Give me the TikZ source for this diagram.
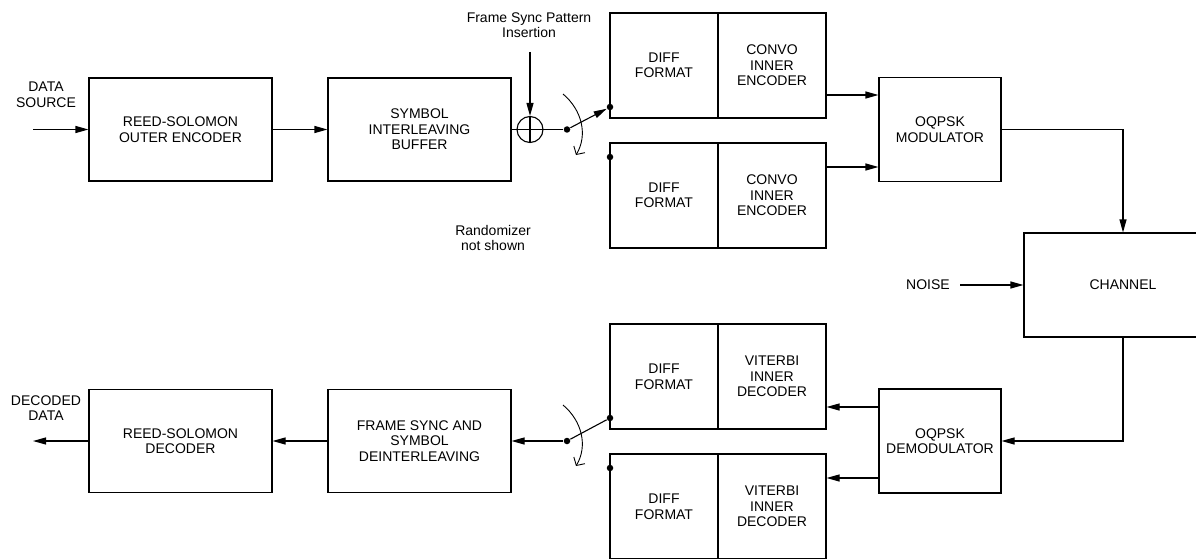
\documentclass[tikz,border=0pt]{standalone}
\usepackage{fontspec}
\setmainfont{Liberation Sans}
\usetikzlibrary{arrows.meta}
\newcommand\dfont{\fontsize{14}{15.5}\selectfont}
\begin{document}
\begin{tikzpicture}[x=1pt,y=-1pt,line width=1.1pt,
  box/.style={draw, minimum width=183pt, minimum height=103pt, align=center, inner sep=0pt, font=\dfont},
  half/.style={draw, minimum width=108pt, minimum height=105pt, align=center, inner sep=0pt, font=\dfont},
  mbox/.style={draw, minimum width=122pt, minimum height=104pt, align=center, inner sep=0pt, font=\dfont},
  lbl/.style={align=center, inner sep=0pt, font=\dfont},
  dot/.style={circle, fill, inner sep=0pt, minimum size=6.5pt},
  arr/.style={-{Triangle[length=13pt,width=7pt]}},
  barb/.style={-{Straight Barb[length=6pt,width=13pt]}}]
\useasboundingbox (0,0) rectangle (1196,559);
\clip (0,0) rectangle (1196,559);
% top row
\node[box] (rsenc) at (180.5,129.5) {REED-SOLOMON\\OUTER ENCODER};
\node[box] (sib) at (419.5,129.5) {SYMBOL\\INTERLEAVING\\BUFFER};
\node[circle, draw, minimum size=26pt, inner sep=0pt] (add) at (530,129.5) {};
\draw (add.north) -- (add.south);
\draw (add.west) -- (add.east);
\node[lbl] (dsrc) at (46,95) {DATA\\SOURCE};
\coordinate (dsin) at (33,129.5);
\draw[arr] (dsin) -- (rsenc.west);
\draw[arr] (rsenc.east) -- (sib.west);
\draw (sib.east) -- (add.west);
\node[lbl] (fsp) at (529,25) {Frame Sync Pattern\\Insertion};
\coordinate (fspin) at (530,52);
\draw[arr] (fspin) -- (add.north);
\node[dot] (sw1) at (567,129.5) {};
\draw (add.east) -- (sw1);
% encoder pairs
\node[half] (diff1) at (664,65.5) {DIFF\\FORMAT};
\node[half] (conv1) at (772,65.5) {CONVO\\INNER\\ENCODER};
\node[half] (diff2) at (664,195.5) {DIFF\\FORMAT};
\node[half] (conv2) at (772,195.5) {CONVO\\INNER\\ENCODER};
\node[dot] (t1) at (610,107) {};
\node[dot] (t2) at (610,157) {};
\draw[arr] (sw1) -- (t1);
\coordinate (c1s) at (563,94);
\coordinate (c1e) at (576,155);
\draw[barb, line width=0.9pt] (c1s) .. controls (582,110) and (588,135) .. (c1e);
\node[lbl] (rnd) at (493,238) {Randomizer\\not shown};
% modulator
\node[mbox] (mod) at (940,129.5) {OQPSK\\MODULATOR};
\coordinate (o1) at ([yshift=-29.5pt]conv1.east);
\draw[arr] (o1) -- (o1 -| mod.west);
\coordinate (o2) at ([yshift=28.5pt]conv2.east);
\draw[arr] (o2) -- (o2 -| mod.west);
% channel
\node[draw, minimum width=198pt, minimum height=104pt, inner sep=0pt, font=\dfont] (chan) at (1123,285) {CHANNEL};
\draw[arr] (mod.east) -| (chan.north);
\node[lbl] (noise) at (928,285) {NOISE};
\coordinate (nin) at (960,285);
\draw[arr] (nin) -- (chan.west);
% demodulator
\node[mbox] (demod) at (940,441) {OQPSK\\DEMODULATOR};
\draw[arr] (chan.south) |- (demod.east);
\node[half] (diff3) at (664,376.5) {DIFF\\FORMAT};
\node[half] (vit1) at (772,376.5) {VITERBI\\INNER\\DECODER};
\node[half] (diff4) at (664,506.5) {DIFF\\FORMAT};
\node[half] (vit2) at (772,506.5) {VITERBI\\INNER\\DECODER};
\coordinate (d1) at ([yshift=34pt]demod.west);
\draw[arr] (d1) -- (d1 -| vit1.east);
\coordinate (d2) at ([yshift=-37pt]demod.west);
\draw[arr] (d2) -- (d2 -| vit2.east);
% bottom switch
\node[dot] (sw2) at (567,441) {};
\node[dot] (t3) at (610,418) {};
\node[dot] (t4) at (610,468) {};
\draw (sw2) -- (t3);
\coordinate (c2s) at (563,405);
\coordinate (c2e) at (576,466);
\draw[barb, line width=0.9pt] (c2s) .. controls (582,421) and (588,446) .. (c2e);
% bottom row
\node[box] (fsd) at (419.5,441) {FRAME SYNC AND\\SYMBOL\\DEINTERLEAVING};
\node[box] (rsdec) at (180.5,441) {REED-SOLOMON\\DECODER};
\draw[arr] (sw2) -- (fsd.east);
\draw[arr] (fsd.west) -- (rsdec.east);
\coordinate (ddout) at (33,441);
\draw[arr] (rsdec.west) -- (ddout);
\node[lbl] (dd) at (46,408) {DECODED\\DATA};
\end{tikzpicture}
\end{document}
